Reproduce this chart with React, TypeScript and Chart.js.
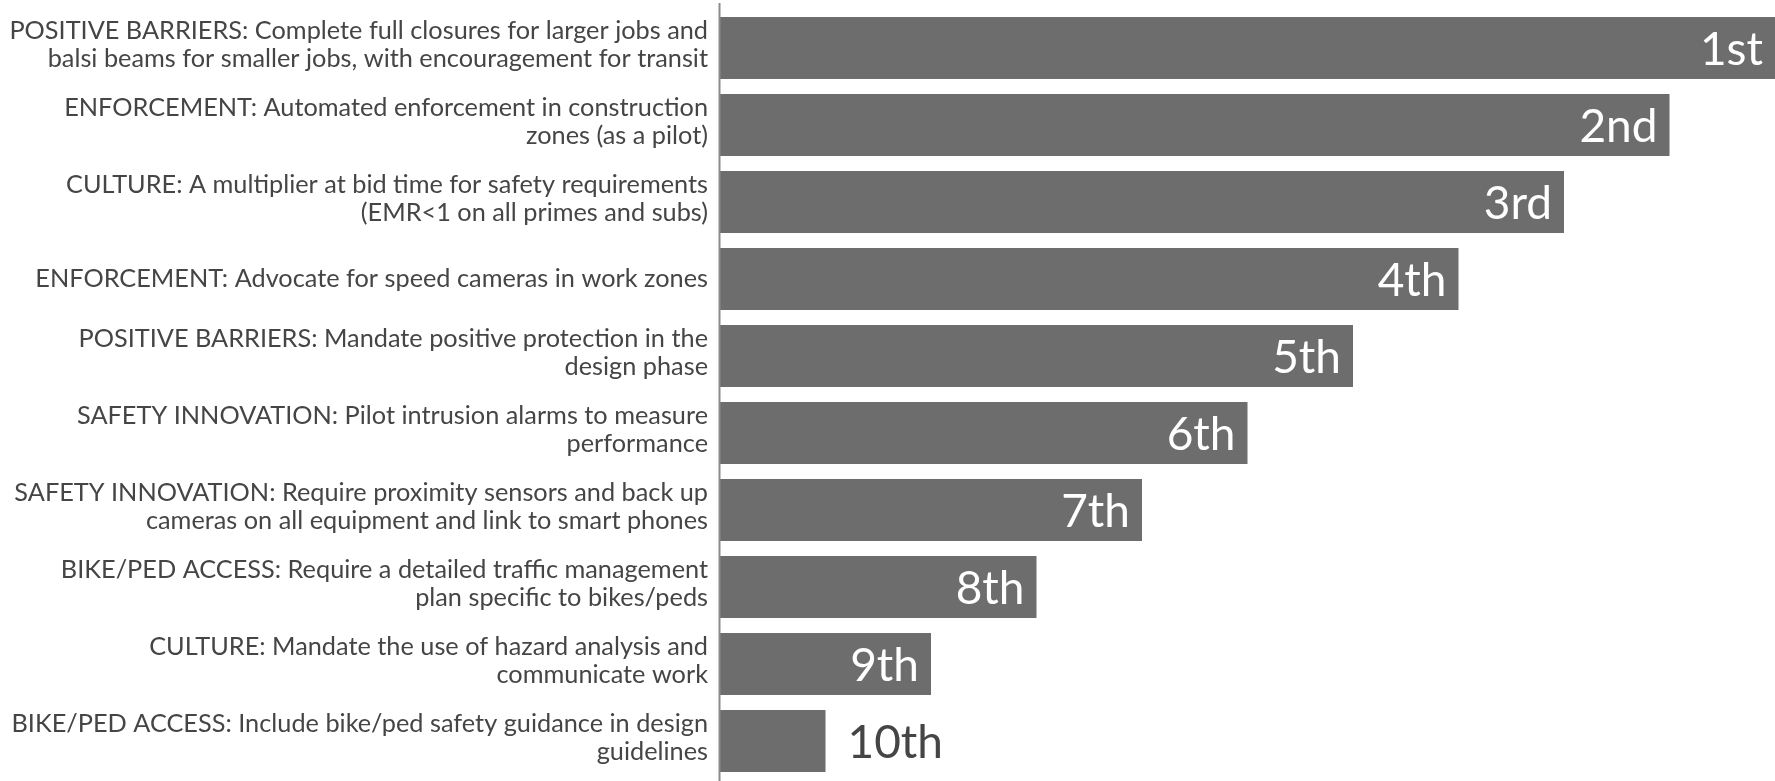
import React, { useEffect, useRef } from "react";
import { Chart, registerables } from "chart.js";

Chart.register(...registerables);

const categories: string[][] = [
  ["POSITIVE BARRIERS: Complete full closures for larger jobs and", "balsi beams for smaller jobs, with encouragement for transit"],
  ["ENFORCEMENT: Automated enforcement in construction", "zones (as a pilot)"],
  ["CULTURE: A multiplier at bid time for safety requirements", "(EMR<1 on all primes and subs)"],
  ["ENFORCEMENT: Advocate for speed cameras in work zones"],
  ["POSITIVE BARRIERS: Mandate positive protection in the", "design phase"],
  ["SAFETY INNOVATION: Pilot intrusion alarms to measure", "performance"],
  ["SAFETY INNOVATION: Require proximity sensors and back up", "cameras on all equipment and link to smart phones"],
  ["BIKE/PED ACCESS: Require a detailed traffic management", "plan specific to bikes/peds"],
  ["CULTURE: Mandate the use of hazard analysis and", "communicate work"],
  ["BIKE/PED ACCESS: Include bike/ped safety guidance in design", "guidelines"],
];

const scores: number[] = [10, 9, 8, 7, 6, 5, 4, 3, 2, 1];

const rankLabels: string[] = ["1st", "2nd", "3rd", "4th", "5th", "6th", "7th", "8th", "9th", "10th"];

const FONT = "Lato, 'Open Sans', sans-serif";
const BAR_COLOR = "#6d6d6d";
const TEXT_COLOR = "#454545";
const AXIS_COLOR = "#8c8c8c";

const rankLabelPlugin = {
  id: "rankLabels",
  afterDatasetsDraw(chart: any) {
    const ctx = chart.ctx;
    const meta = chart.getDatasetMeta(0);
    ctx.save();
    ctx.font = `46px ${FONT}`;
    ctx.textBaseline = "middle";
    meta.data.forEach((bar: any, i: number) => {
      const label = rankLabels[i];
      const w = ctx.measureText(label).width;
      const barWidth = bar.x - bar.base;
      const pad = 12;
      if (w + pad * 2 < barWidth) {
        ctx.fillStyle = "#ffffff";
        ctx.textAlign = "right";
        ctx.fillText(label, bar.x - pad, bar.y + 2);
      } else {
        ctx.fillStyle = TEXT_COLOR;
        ctx.textAlign = "left";
        ctx.fillText(label, bar.x + 22, bar.y + 2);
      }
    });
    ctx.restore();
  },
};

const categoryLabelPlugin = {
  id: "categoryLabels",
  afterDraw(chart: any) {
    const ctx = chart.ctx;
    const yScale = chart.scales.y;
    const x = chart.chartArea.left - 12;
    const lh = 28.5;
    ctx.save();
    ctx.font = `25.3px ${FONT}`;
    ctx.fillStyle = TEXT_COLOR;
    ctx.textAlign = "right";
    ctx.textBaseline = "middle";
    categories.forEach((lines, i) => {
      const yc = yScale.getPixelForTick(i);
      const n = lines.length;
      const shift = n > 1 ? -3.3 : 0;
      lines.forEach((line, j) => {
        ctx.fillText(line, x, yc - ((n - 1) * lh) / 2 + j * lh + shift);
      });
    });
    ctx.restore();
  },
};

const axisLinePlugin = {
  id: "axisLine",
  afterDatasetsDraw(chart: any) {
    const ctx = chart.ctx;
    const x = chart.chartArea.left - 0.5;
    ctx.save();
    ctx.strokeStyle = AXIS_COLOR;
    ctx.lineWidth = 2;
    ctx.beginPath();
    ctx.moveTo(x, 3);
    ctx.lineTo(x, chart.height);
    ctx.stroke();
    ctx.restore();
  },
};

export default function App() {
  const canvasRef = useRef<HTMLCanvasElement | null>(null);

  useEffect(() => {
    if (!canvasRef.current) return;
    const chart = new Chart(canvasRef.current, {
      type: "bar",
      data: {
        labels: categories.map((c) => c.join(" ")),
        datasets: [
          {
            data: scores,
            backgroundColor: BAR_COLOR,
            borderWidth: 0,
            barPercentage: 0.805,
            categoryPercentage: 1,
          },
        ],
      },
      options: {
        indexAxis: "y",
        animation: false,
        responsive: false,
        layout: { padding: { top: 9.5, bottom: 1.5, left: 0, right: 0 } },
        plugins: {
          legend: { display: false },
          tooltip: { enabled: false },
        },
        scales: {
          x: {
            display: false,
            min: 0,
            max: 10,
          },
          y: {
            afterFit: (scale: any) => {
              scale.width = 720;
              scale.paddingTop = 0;
              scale.paddingBottom = 0;
            },
            grid: { display: false, drawTicks: false },
            border: { display: false },
            ticks: { display: false },
          },
        },
      },
      plugins: [rankLabelPlugin, axisLinePlugin, categoryLabelPlugin],
    });
    return () => chart.destroy();
  }, []);

  return (
    <div style={{ position: "absolute", left: 0, top: 0, width: 1775, height: 781, background: "#fff" }}>
      <canvas ref={canvasRef} width={1775} height={781} style={{ width: 1775, height: 781 }} />
    </div>
  );
}
